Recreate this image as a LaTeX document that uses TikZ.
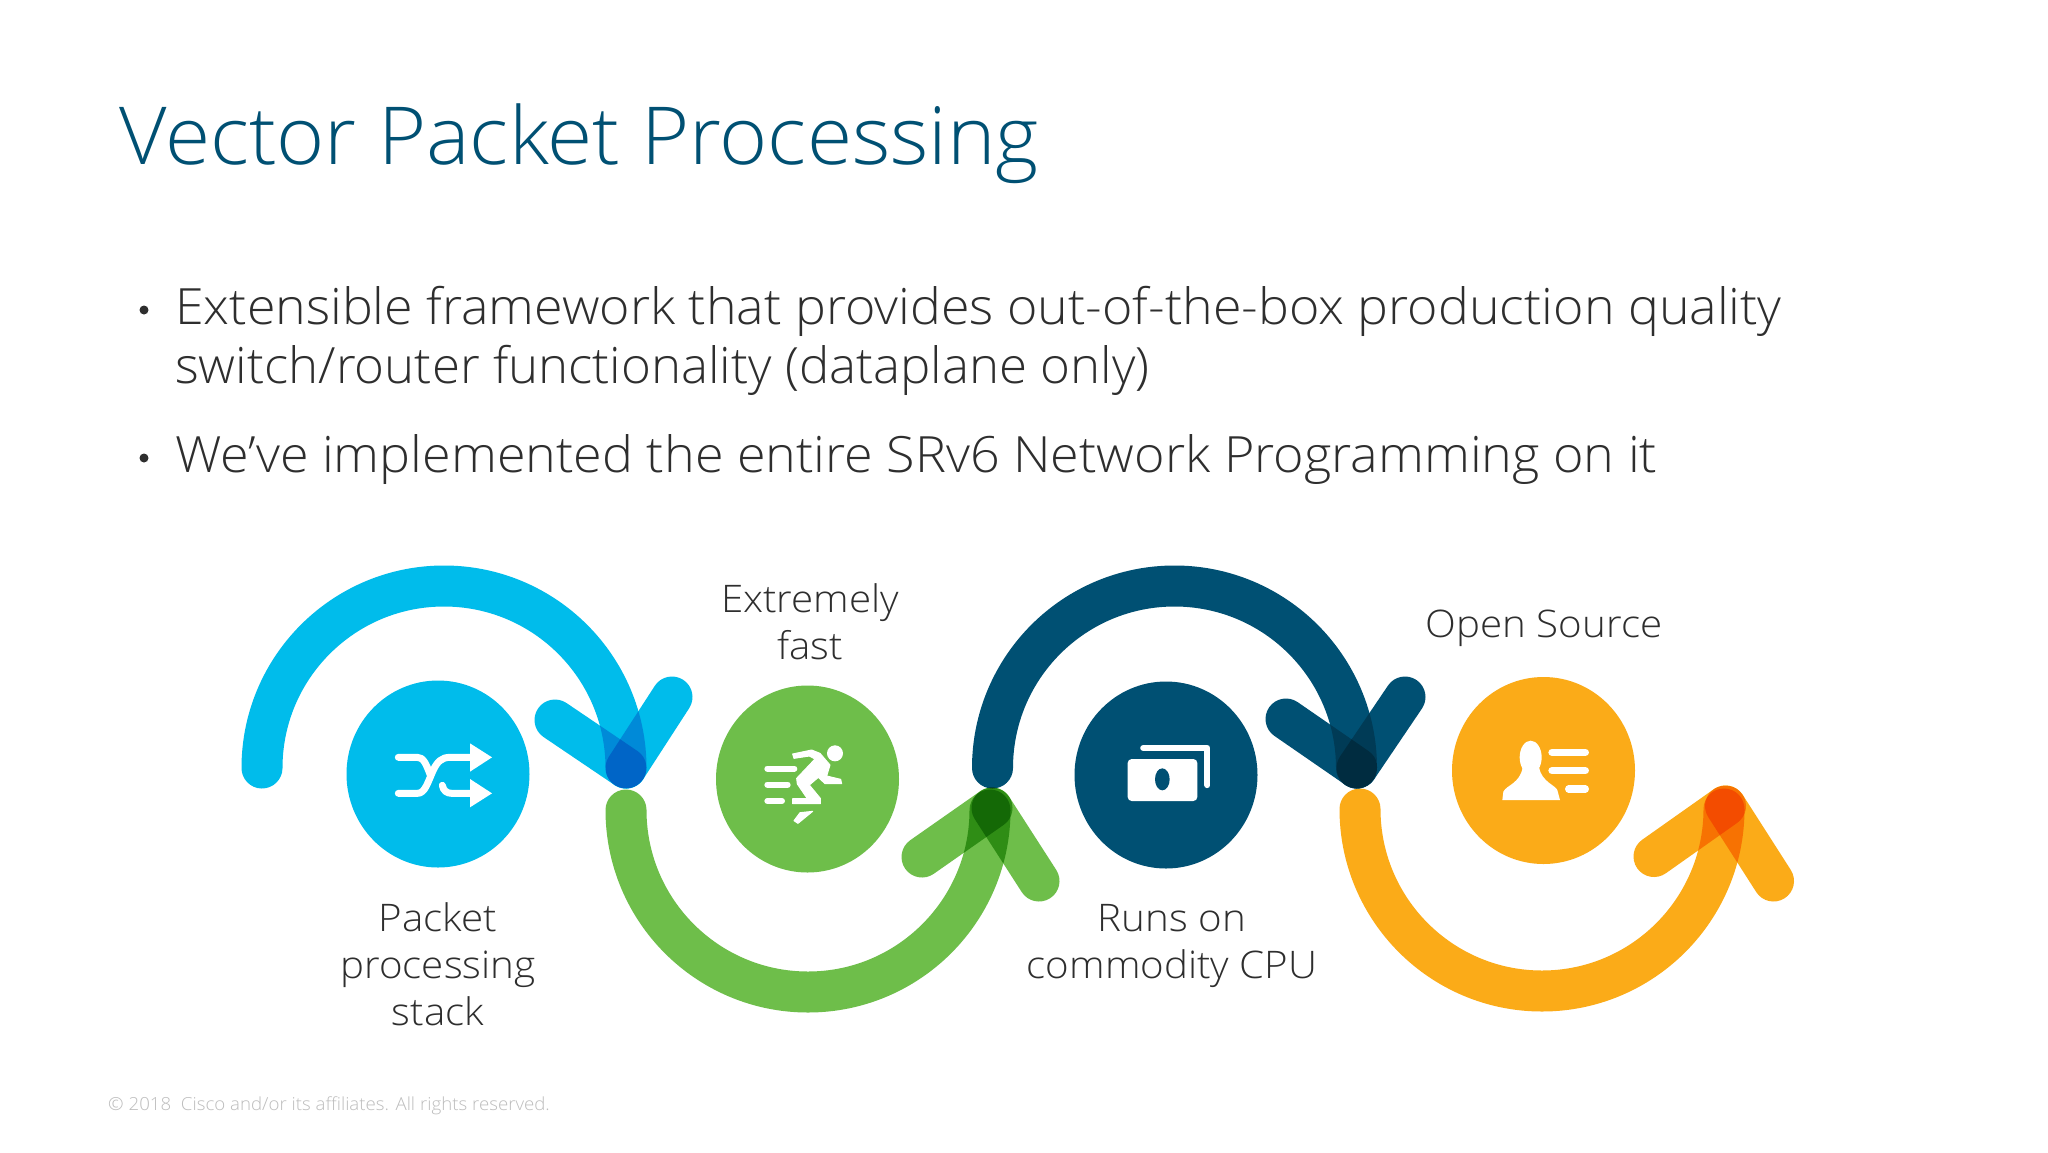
\documentclass[tikz,border=0pt]{standalone}
\usepackage{fontspec}
\usetikzlibrary{shapes.geometric}
\setmainfont{Open Sans Light}[Ligatures=NoCommon]
\newfontfamily\titlef{Open Sans Light}[Ligatures=NoCommon,FakeStretch=1.028]
\newfontfamily\bodyf{Open Sans Light}[Ligatures=NoCommon,FakeStretch=1.038]
\newfontfamily\bodyb{Open Sans Light}[Ligatures=NoCommon,FakeStretch=1.02]
\newfontfamily\bodyc{Open Sans Light}[Ligatures=NoCommon,FakeStretch=1.041]
\newfontfamily\labf{Open Sans Light}[Ligatures=NoCommon,FakeStretch=1.06]
\definecolor{cblue}{HTML}{00BCEB}
\definecolor{cgreen}{HTML}{6EBE4A}
\definecolor{cnavy}{HTML}{005073}
\definecolor{corange}{HTML}{FBAB18}
\definecolor{ctext}{HTML}{2E2E2E}
\definecolor{cfoot}{HTML}{BDBDBD}
\definecolor{cshade}{HTML}{BFBFBF}
\newcommand{\fs}[1]{\fontsize{#1}{#1}\selectfont}
\tikzset{
  disc/.style={ellipse,fill=#1,inner sep=0pt,minimum width=183pt,minimum height=187pt},
  lab/.style={anchor=base,text=ctext,inner sep=0pt,font=\labf\fs{38}},
  body/.style={anchor=base west,text=ctext,inner sep=0pt},
  bul/.style={circle,fill=ctext,inner sep=0pt,minimum size=9pt},
  swoosh/.style={line width=41pt,line cap=round,draw=#1},
  icon/.style={draw=white,line cap=round,line join=round},
  iconfill/.style={fill=white,draw=white,line width=1pt,line join=round}
}
% #1 colour, #2 start, #3 start angle, #4 end angle, #5 tip, #6 arm, #7 arm
\newcommand{\swooshpath}[7]{%
  \draw[swoosh=#1] (#2) arc[start angle=#3,end angle=#4,radius=182];
  \draw[swoosh=#1] (#5) -- (#6);
  \draw[swoosh=#1] (#5) -- (#7);
}
% overlap shading of the navy arrow: #1 arm rotation, #2 arm length
\newcommand{\navyshade}[2]{%
  \begin{scope}
    \clip[shift={(e3)},rotate=#1] (0,-20.5) -- (#2,-20.5) arc[start angle=-90,end angle=90,radius=20.5] -- (0,20.5) arc[start angle=90,end angle=270,radius=20.5] -- cycle;
    \draw[swoosh=cshade,blend mode=multiply] (s3) arc[start angle=180,end angle=360,radius=182];
  \end{scope}
}
\begin{document}
\begin{tikzpicture}[x=1pt,y=1pt,yscale=-1]
\useasboundingbox (0,0) rectangle (2048,1152);
\fill[white] (0,0) rectangle (2048,1152);
% text
\node[anchor=base west,text=cnavy,inner sep=0pt,font=\titlef\fs{80}] (title) at (119,164) {Vector Packet Processing};
\node[bul] (b1) at (144,310) {};
\node[bul] (b2) at (144,458) {};
\node[body,font=\bodyf\fs{50}] (l1) at (175,324) {Extensible framework that provides out-of-the-box production quality};
\node[body,font=\bodyb\fs{50}] (l2) at (175,383) {switch/router functionality (dataplane only)};
\node[body,font=\bodyc\fs{50}] (l3) at (175,472) {We’ve implemented the entire SRv6 Network Programming on it};
\node[lab] (t1a) at (810,612) {Extremely};
\node[lab] (t1b) at (810,659) {fast};
\node[lab] (p1) at (438,931) {Packet};
\node[lab] (p2) at (438,978) {processing};
\node[lab] (p3) at (438,1025) {stack};
\node[lab] (r1) at (1172,931) {Runs on};
\node[lab] (r2) at (1172,978) {commodity CPU};
\node[lab] (o1) at (1544,637) {Open Source};
\node[anchor=base west,text=cfoot,inner sep=0pt,font=\bodyf\fs{18}] (foot) at (108,1110) {© 2018\ \ Cisco and/or its affiliates. All rights reserved.};
% discs
\node[disc=cblue] (d1) at (438,774) {};
\node[disc=cgreen] (d2) at (807.5,779) {};
\node[disc=cnavy] (d3) at (1166,775) {};
\node[disc=corange] (d4) at (1543.5,770.5) {};
% swooshes
\coordinate (s1) at (262,768); \coordinate (e1) at (626,768);
\coordinate (a1) at (555,720); \coordinate (b1a) at (672,697);
\coordinate (s2) at (626,810); \coordinate (e2) at (992,808);
\coordinate (a2) at (922,857); \coordinate (b2a) at (1039,881);
\coordinate (s3) at (992.5,768); \coordinate (e3) at (1357,768);
\coordinate (a3) at (1286,719); \coordinate (b3a) at (1405,697);
\coordinate (s4) at (1360,809); \coordinate (e4) at (1725.5,806);
\coordinate (a4) at (1654,856.5); \coordinate (b4a) at (1773.5,881);
\swooshpath{cnavy}{s3}{180}{360}{e3}{a3}{b3a}
\navyshade{214.6}{86.3}
\navyshade{-55.9}{85.7}
\begin{scope}[blend mode=multiply]
\swooshpath{cblue}{s1}{180}{360}{e1}{a1}{b1a}
\swooshpath{cgreen}{s2}{180}{0}{e2}{a2}{b2a}
\swooshpath{corange}{s4}{180}{0}{e4}{a4}{b4a}
\end{scope}
% shuffle icon
\begin{scope}[shift={(340,680)},scale=0.33333]
\draw[icon,line width=7pt] (175,232) -- (232,232) .. controls (250,232) and (258,250) .. (272,288);
\draw[icon,line width=7pt] (175,340) -- (232,340) .. controls (255,340) and (262,310) .. (280,270) .. controls (292,245) and (305,232) .. (330,232) -- (395,232);
\draw[icon,line width=7pt] (307,316) .. controls (310,332) and (320,340) .. (335,340) -- (395,340);
\fill[white] (390,190) -- (456,232) -- (390,275) -- cycle;
\fill[white] (390,297) -- (456,340) -- (390,382) -- cycle;
\end{scope}
% runner icon
\begin{scope}[shift={(720,690)},scale=0.33333]
\draw[icon,line width=6pt] (142,236) -- (223,236);
\draw[icon,line width=6pt] (142,284) -- (203,284);
\draw[icon,line width=6pt] (142,333) -- (186,333);
\fill[white] (345,190) circle (24);
\fill[iconfill] (218,192) -- (275,180) -- (300,190) -- (330,225) -- (320,258) -- (362,268) -- (365,281) -- (315,281) -- (295,262) -- (268,285) -- (301,325) -- (301,341) -- (218,341) -- (218,326) -- (262,326) -- (232,282) -- (230,265) -- (285,207) -- (268,198) -- (222,205) -- cycle;
\fill[iconfill] (222,392) -- (240,368) -- (278,364) -- (234,400) -- cycle;
\end{scope}
% money icon
\begin{scope}[shift={(1080,680)},scale=0.33333]
\draw[icon,line width=6.3pt] (190,204) -- (382,204) -- (382,315);
\fill[white,rounded corners=4pt] (143,237) rectangle (352,363);
\fill[cnavy] (247,298) ellipse[x radius=22,y radius=33];
\end{scope}
% person icon
\begin{scope}[shift={(1460,680)},scale=0.33333]
\fill[white] (212,232) ellipse[x radius=33,y radius=50];
\fill[white] (127,360) -- (130,335) .. controls (140,315) and (180,310) .. (188,262) -- (237,262) .. controls (245,305) and (285,315) .. (292,330) -- (300,360) -- cycle;
\draw[icon,line width=7.3pt] (276,217) -- (376,217);
\draw[icon,line width=7.3pt] (276,272) -- (376,272);
\draw[icon,line width=7.3pt] (326,327) -- (376,327);
\end{scope}
\end{tikzpicture}
\end{document}
